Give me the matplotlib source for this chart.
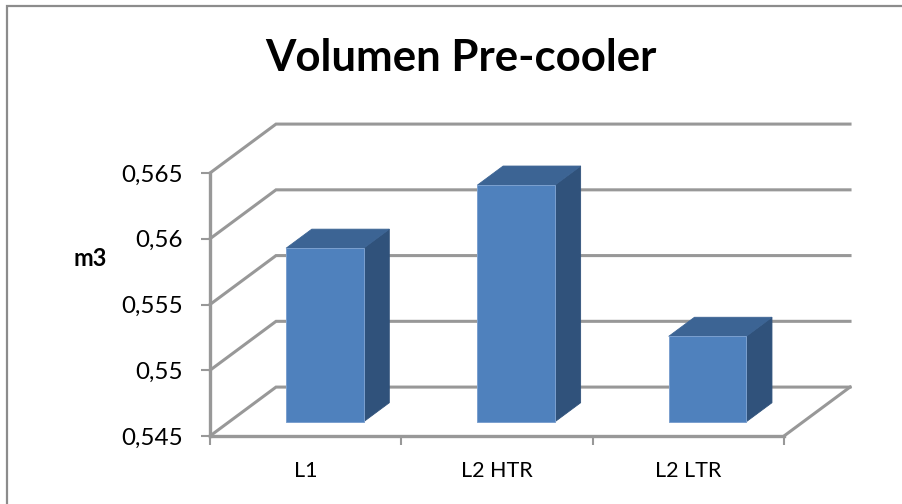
import matplotlib.pyplot as plt
from matplotlib.patches import Polygon, Rectangle

plt.rcParams["font.family"] = ["Lato", "DejaVu Sans"]

categories = ["L1", "L2 HTR", "L2 LTR"]
values = [0.5582, 0.5630, 0.5515]
y_ticks = [0.545, 0.55, 0.555, 0.56, 0.565]
y_labels = ["0,545", "0,55", "0,555", "0,56", "0,565"]

W, H = 902, 504
GRID = "#989898"
FRONT = "#4f81bd"
TOP = "#3c6494"
SIDE = "#30527b"

# depth of the box, in data units of the front plane
DEPTH_X = 0.345
DEPTH_Y = 0.00372
BAR_WIDTH = 0.405
BAR_NEAR = 0.29
BAR_FAR = 0.68


def project(x, v, d):
    return x + d * DEPTH_X, v + d * DEPTH_Y


def draw_box(ax, i, val):
    base = y_ticks[0]
    left, right = i + 0.5 - BAR_WIDTH / 2, i + 0.5 + BAR_WIDTH / 2
    front = [project(left, base, BAR_NEAR), project(right, base, BAR_NEAR),
             project(right, val, BAR_NEAR), project(left, val, BAR_NEAR)]
    top = [project(left, val, BAR_NEAR), project(right, val, BAR_NEAR),
           project(right, val, BAR_FAR), project(left, val, BAR_FAR)]
    side = [project(right, base, BAR_NEAR), project(right, base, BAR_FAR),
            project(right, val, BAR_FAR), project(right, val, BAR_NEAR)]
    ax.add_patch(Polygon(side, fc=SIDE, ec=SIDE, lw=0.6, clip_on=False, zorder=3))
    ax.add_patch(Polygon(top, fc=TOP, ec=TOP, lw=0.6, clip_on=False, zorder=3))
    ax.add_patch(Polygon(front, fc=FRONT, ec="#7ba0cf", lw=0.7, clip_on=False, zorder=4))


def main():
    fig = plt.figure(figsize=(W / 100, H / 100), dpi=100)
    fig.patch.set_facecolor("white")
    fig.add_artist(Rectangle((6.5 / W, -0.1), 1.1, 1.1 - 6 / H, transform=fig.transFigure,
                             fc="white", ec="#8c8c8c", lw=1.6, zorder=-1))

    ax = fig.add_axes([210 / W, 1 - 436 / H, 574 / W, 263 / H])
    ax.patch.set_visible(False)
    ax.set_xlim(0, len(categories))
    ax.set_ylim(y_ticks[0], y_ticks[-1])

    # back wall gridlines and side wall
    for t in y_ticks:
        x0, y0 = project(0, t, 0)
        x1, y1 = project(0, t, 1)
        x2, y2 = project(len(categories), t, 1)
        ax.plot([x0, x1, x2], [y0, y1, y2], color=GRID, lw=2.2, clip_on=False,
                solid_joinstyle="miter", zorder=1)

    # floor edge on the right
    x0, y0 = project(len(categories), y_ticks[0], 0)
    x1, y1 = project(len(categories), y_ticks[0], 1)
    ax.plot([x0, x1], [y0, y1], color=GRID, lw=2.2, clip_on=False, zorder=1)

    for i, val in enumerate(values):
        draw_box(ax, i, val)

    for s in ["top", "right"]:
        ax.spines[s].set_visible(False)
    for s in ["left", "bottom"]:
        ax.spines[s].set_color(GRID)
        ax.spines[s].set_linewidth(2.4)

    ax.set_yticks(y_ticks, y_labels, fontsize=17.4)
    ax.set_xticks(range(len(categories) + 1), [""] * (len(categories) + 1))
    ax.tick_params(axis="both", color=GRID, width=1.5, length=6.3, pad=13.5)
    for i, name in enumerate(categories):
        ax.text(i + 0.5, -0.133, name, transform=ax.get_xaxis_transform(),
                ha="center", va="center", fontsize=15.5)

    fig.text(461 / W, 1 - 58 / H, "Volumen Pre-cooler", ha="center", va="center",
             fontsize=31.5, fontweight="bold")
    fig.text(90.5 / W, 1 - 258 / H, "m3", ha="center", va="center",
             fontsize=17, fontweight="bold")

    plt.savefig("out.png", dpi=100)


if __name__ == "__main__":
    main()
